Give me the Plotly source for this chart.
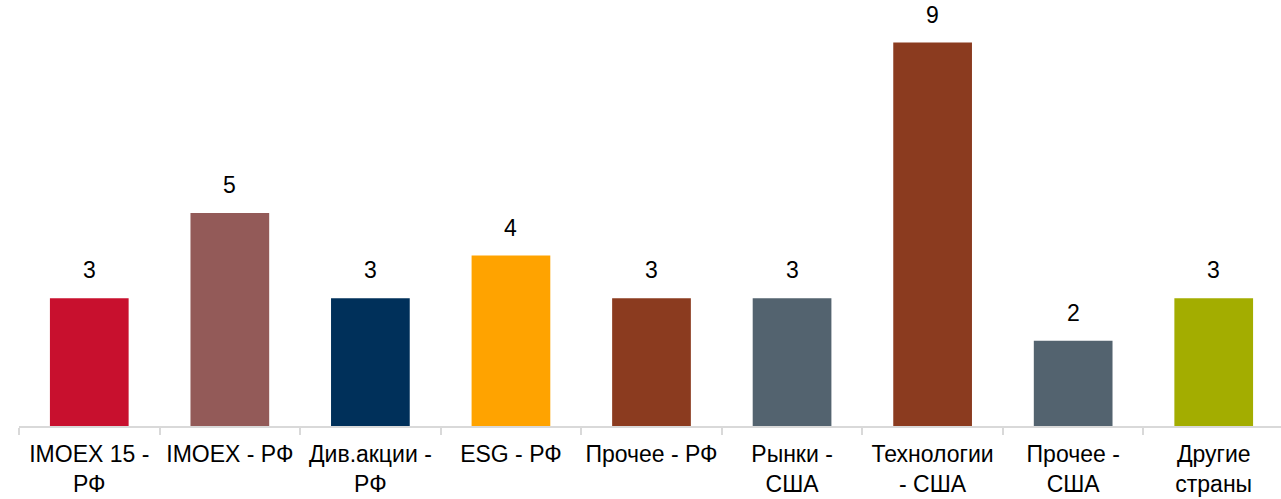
import plotly.graph_objects as go

categories = ["IMOEX 15 -<br>РФ", "IMOEX - РФ", "Див.акции -<br>РФ", "ESG - РФ", "Прочее - РФ",
              "Рынки -<br>США", "Технологии<br>- США", "Прочее -<br>США", "Другие<br>страны"]
values = [3, 5, 3, 4, 3, 3, 9, 2, 3]
colors = ["#C8102E", "#935A58", "#00305A", "#FFA300", "#8B3B1F",
          "#53636F", "#8B3B1F", "#53636F", "#A3AD00"]

FONT = "Liberation Sans, Arial, sans-serif"

fig = go.Figure()
fig.add_trace(go.Bar(x=categories, y=values, marker=dict(color=colors, line=dict(width=0)),
                     width=0.56, hoverinfo="skip"))

for c, v in zip(categories, values):
    fig.add_annotation(x=c, y=v, text=str(v), showarrow=False, yanchor="bottom",
                       yshift=13, font=dict(size=23, color="#000000", family=FONT))

fig.update_layout(
    width=1284, height=499,
    margin=dict(l=19, r=0, t=0, b=73),
    paper_bgcolor="white", plot_bgcolor="white",
    showlegend=False,
    font=dict(family=FONT, size=23, color="#000000"),
    bargap=0.44,
)
fig.update_xaxes(showline=True, linecolor="#D9D9D9", linewidth=2, ticks="outside",
                 tickson="boundaries", ticklen=7, tickcolor="#D9D9D9", tickwidth=2,
                 ticklabelstandoff=6, tickangle=0, automargin=False,
                 tickfont=dict(size=23, color="#000000", family=FONT), showgrid=False)
fig.update_yaxes(range=[0, 10], visible=False, showgrid=False, zeroline=False)

fig.write_html("out.html", config={"displayModeBar": False},
               post_script="document.body.style.margin='0';document.body.style.overflow='hidden';")
